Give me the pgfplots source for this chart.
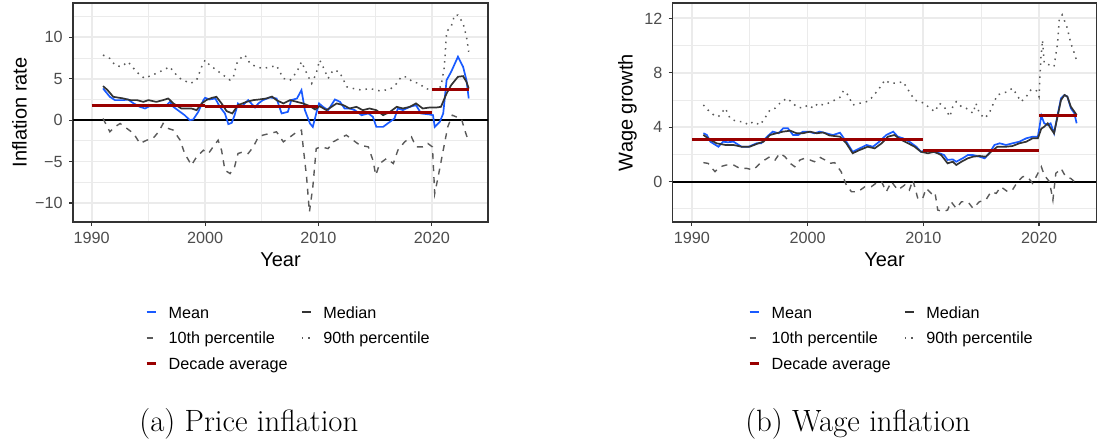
\documentclass[border=0pt]{standalone}
\usepackage{fontspec}
\usepackage{pgfplots}
\pgfplotsset{compat=1.18}
\newfontfamily\chartfont{Liberation Sans}
\definecolor{meanblue}{RGB}{25,90,255}
\definecolor{medgrey}{RGB}{51,51,51}
\definecolor{pgrey}{RGB}{90,90,90}
\definecolor{decred}{RGB}{153,0,0}
\definecolor{gridc}{RGB}{235,235,235}
\definecolor{borderc}{RGB}{51,51,51}
\definecolor{ticklab}{RGB}{77,77,77}
\pgfplotsset{
  panel/.style={
    scale only axis, anchor=south west,
    height=109.5pt,
    xmin=1988.35, xmax=2024.95,
    xtick={1990,2000,2010,2020}, xticklabels={1990,2000,2010,2020},
    minor xtick={1995,2005,2015},
    grid=both,
    major grid style={draw=gridc, line width=0.9pt},
    minor grid style={draw=gridc, line width=0.45pt},
    axis line style={draw=borderc, line width=0.7pt},
    tick align=outside, major tick length=2pt, minor tick length=0pt,
    tick style={draw=borderc, line width=0.55pt},
    xtick pos=bottom, ytick pos=left,
    tick label style={font=\chartfont\fontsize{8.1}{9.7}\selectfont, text=ticklab},
    yticklabel style={inner sep=0pt, xshift=-3pt},
    xticklabel style={inner sep=0pt, yshift=-3pt},
    label style={font=\chartfont\fontsize{10}{12}\selectfont, text=black},
    xlabel={Year},
    xlabel style={at={(axis description cs:0.5,0)}, anchor=base, yshift=-22.35pt},
    legend columns=2,
    legend image code/.code={\draw[##1] (0pt,2.85pt) -- (4.5pt,2.85pt);},
    legend style={
      draw=none, fill=none, inner sep=0pt, outer sep=0pt, anchor=north west,
      font=\chartfont\fontsize{8.1}{9.7}\selectfont,
      row sep=4.95pt,
      cells={anchor=base west},
      nodes={inner sep=0pt, outer sep=0pt, text height=6pt, text depth=1.8pt},
      /tikz/every odd column/.style={column sep=5.85pt},
      /tikz/every even column/.style={column sep=6.7pt},
    },
  },
  meanst/.style={meanblue, line width=0.85pt},
  medst/.style={medgrey, line width=0.85pt},
  p10st/.style={pgrey, line width=0.7pt, dash pattern=on 3pt off 3pt},
  p90st/.style={pgrey, line width=0.75pt, dash pattern=on 0.75pt off 2.5pt},
  decst/.style={decred, line width=1.5pt},
}
\begin{document}
\begin{tikzpicture}
\path[use as bounding box] (0,0) rectangle (548.5pt,-222pt);
% ---------------- Panel (a) ----------------
\begin{axis}[panel, at={(36.5pt,-111pt)}, width=207.5pt,
  ymin=-12.3, ymax=14.15,
  ytick={-10,-5,0,5,10}, yticklabels={−10,−5,0,5,10},
  minor ytick={-7.5,-2.5,2.5,7.5,12.5},
  ylabel={Inflation rate},
  ylabel style={at={(axis description cs:-0.129,0.5)}, anchor=center},
  legend style={at={(axis description cs:0.1735,-0.3836)}},
  unbounded coords=jump,
]
\addlegendimage{meanst}\addlegendentry{Mean}
\addlegendimage{medst}\addlegendentry{Median}
\addlegendimage{p10st}\addlegendentry{10th percentile}
\addlegendimage{p90st}\addlegendentry{90th percentile}
\addlegendimage{decst}\addlegendentry{Decade average}
\addplot[black, line width=0.8pt, forget plot] coordinates {(1988.35,0) (2024.95,0)};
% 90th percentile
\addplot[p90st, forget plot] coordinates {
(1991.0,7.86)(1991.6,7.46)(1992.05,6.65)(1992.6,6.45)(1993.2,7.05)(1993.7,6.25)(1994.25,5.44)(1994.7,5.04)(1995.1,5.32)(1995.7,5.65)(1996.3,6.05)(1996.9,6.45)(1997.2,5.84)(1997.8,5.04)(1998.4,4.63)(1998.7,4.43)(1999.25,4.84)(1999.7,6.45)(2000.0,7.26)(2000.4,6.65)(2001.0,6.05)(2001.6,5.44)(2002.2,4.84)(2002.5,5.24)(2002.8,6.86)(2003.35,7.86)(2003.65,7.66)(2003.95,6.86)(2004.5,6.45)(2005.1,6.25)(2005.7,6.4)(2006.3,6.6)(2006.9,5.04)(2007.5,4.84)(2008.1,5.84)(2008.5,7.05)(2008.9,5.84)(2009.4,4.43)(2009.8,5.64)(2010.1,7.26)(2010.4,6.45)(2010.85,5.04)(2011.3,6.05)(2011.85,5.84)(2012.5,4.03)(2013.05,3.83)(2013.8,3.63)(2014.5,3.83)(2015.4,3.54)(2016.3,3.71)(2016.9,4.43)(2017.3,5.24)(2017.75,5.24)(2018.3,4.63)(2018.9,4.43)(2019.4,3.83)(2019.8,3.71)(2020.4,3.83)(2020.8,4.03)(2021.1,6.45)(2021.3,10.7)(2021.7,11.3)(2022.0,12.7)(2022.3,12.7)(2022.75,11.7)(2023.05,10.1)(2023.25,8.26)};
% 10th percentile
\addplot[p10st, forget plot] coordinates {
(1991.0,0.2)(1991.6,-1.41)(1992.05,-0.81)(1992.5,-0.4)(1993.1,-1.0)(1993.7,-1.61)(1994.25,-2.82)(1994.85,-2.42)(1995.4,-2.21)(1995.9,-1.41)(1996.3,-0.4)(1996.75,-1.0)(1997.2,-1.21)(1997.8,-2.42)(1998.2,-4.03)(1998.8,-5.44)(1999.25,-4.43)(1999.85,-3.63)(2000.3,-4.03)(2000.7,-3.23)(2001.15,-2.42)(2001.45,-3.63)(2001.75,-6.05)(2002.2,-6.45)(2002.6,-5.64)(2002.9,-4.03)(2003.35,-3.83)(2003.8,-4.03)(2004.25,-3.23)(2004.7,-2.02)(2005.1,-1.81)(2005.7,-1.61)(2006.3,-1.41)(2006.9,-2.62)(2007.5,-2.02)(2008.1,-1.41)(2008.5,-1.21)(2008.65,-3.23)(2008.95,-6.86)(2009.2,-11.1)(2009.5,-8.06)(2009.8,-3.43)(2010.25,-3.23)(2010.85,-3.43)(2011.3,-2.62)(2011.85,-2.21)(2012.45,-1.81)(2013.05,-2.42)(2013.65,-3.02)(2014.4,-3.23)(2014.8,-4.84)(2015.05,-6.65)(2015.4,-5.24)(2016.0,-4.63)(2016.6,-5.24)(2017.0,-3.63)(2017.6,-2.62)(2018.2,-2.02)(2018.6,-3.23)(2019.2,-3.23)(2019.65,-2.82)(2020.05,-3.23)(2020.25,-8.87)(2020.55,-6.86)(2021.0,-3.63)(2021.4,-0.81)(2021.8,0.6)(2022.15,0.4)(2022.6,0.2)(2022.9,-1.21)(2023.25,-2.62)};
% mean
\addplot[meanst, forget plot] coordinates {
(1991.0,3.83)(1991.6,2.82)(1992.05,2.42)(1992.8,2.42)(1993.2,2.5)(1993.7,2.02)(1994.25,1.61)(1994.7,1.41)(1995.1,1.69)(1996.0,1.69)(1996.6,1.81)(1996.9,2.21)(1997.2,1.61)(1997.8,1.0)(1998.2,0.6)(1998.65,0.0)(1998.95,0.08)(1999.4,1.0)(1999.85,2.42)(2000.0,2.7)(2000.4,2.5)(2000.9,2.62)(2001.3,1.61)(2001.75,0.81)(2002.05,-0.48)(2002.35,-0.32)(2002.6,0.6)(2002.9,2.02)(2003.2,1.61)(2003.8,2.42)(2004.4,1.53)(2004.7,2.02)(2005.1,2.42)(2005.7,2.74)(2006.3,2.62)(2006.75,0.81)(2007.3,1.0)(2007.6,2.42)(2008.1,2.62)(2008.5,3.63)(2008.8,1.21)(2009.25,-0.4)(2009.5,-0.81)(2009.8,0.81)(2010.05,2.02)(2010.4,1.61)(2010.85,1.21)(2011.45,2.5)(2011.9,2.21)(2012.3,1.41)(2012.75,1.41)(2013.2,1.21)(2013.8,0.6)(2014.4,0.81)(2014.8,0.4)(2015.1,-0.81)(2015.7,-0.81)(2016.3,-0.2)(2016.7,0.2)(2017.0,1.41)(2017.45,1.21)(2018.05,1.61)(2018.6,1.81)(2019.05,0.81)(2019.8,0.69)(2020.1,0.6)(2020.25,-0.81)(2020.7,-0.2)(2021.0,0.81)(2021.3,4.84)(2021.7,5.84)(2022.3,7.66)(2022.75,6.45)(2023.05,4.84)(2023.25,2.62)};
% median
\addplot[medst, forget plot] coordinates {
(1991.0,4.11)(1991.4,3.63)(1991.9,2.82)(1992.8,2.62)(1993.4,2.42)(1994.0,2.42)(1994.55,2.21)(1995.0,2.42)(1995.7,2.21)(1996.3,2.42)(1996.75,2.62)(1997.2,2.02)(1997.9,1.41)(1998.8,1.41)(1999.25,1.21)(1999.7,2.02)(2000.1,2.42)(2000.6,2.7)(2001.0,2.82)(2001.45,2.02)(2001.9,1.09)(2002.4,0.81)(2002.9,1.81)(2003.65,2.21)(2004.25,2.42)(2004.8,2.5)(2005.4,2.62)(2005.9,2.85)(2006.3,2.42)(2006.9,2.02)(2007.5,2.42)(2008.1,2.21)(2008.65,2.02)(2009.25,1.69)(2009.7,1.29)(2010.1,1.69)(2010.7,1.21)(2011.15,1.61)(2011.6,2.02)(2012.2,1.81)(2012.75,1.41)(2013.35,1.61)(2013.9,1.21)(2014.5,1.41)(2015.1,1.21)(2015.7,0.6)(2016.3,1.0)(2016.9,1.61)(2017.45,1.41)(2018.05,1.61)(2018.6,2.02)(2019.2,1.41)(2019.8,1.53)(2020.4,1.53)(2020.8,1.61)(2021.3,3.23)(2021.7,4.23)(2022.3,5.24)(2022.75,5.32)(2023.05,4.63)(2023.25,3.83)};
% decade averages
\addplot[decst, forget plot] coordinates {
(1990,1.74)(2000,1.74)(2000,nan)(2000,1.66)(2010,1.66)(2010,nan)(2010,0.93)(2020,0.93)(2020,nan)(2020,3.73)(2023.25,3.73)};
\end{axis}
% ---------------- Panel (b) ----------------
\begin{axis}[panel, at={(336.35pt,-111pt)}, width=211.8pt,
  ymin=-2.96, ymax=13.13,
  ytick={0,4,8,12}, yticklabels={0,4,8,12},
  minor ytick={-2,2,6,10},
  ylabel={Wage growth},
  ylabel style={at={(axis description cs:-0.1067,0.5)}, anchor=center},
  legend style={at={(axis description cs:0.1778,-0.3836)}},
  unbounded coords=jump,
]
\addlegendimage{meanst}\addlegendentry{Mean}
\addlegendimage{medst}\addlegendentry{Median}
\addlegendimage{p10st}\addlegendentry{10th percentile}
\addlegendimage{p90st}\addlegendentry{90th percentile}
\addlegendimage{decst}\addlegendentry{Decade average}
\addplot[black, line width=0.8pt, forget plot] coordinates {(1988.35,0) (2024.95,0)};
% 90th percentile
\addplot[p90st, forget plot] coordinates {
(1991.0,5.64)(1991.4,5.27)(1991.9,4.9)(1992.3,4.78)(1992.9,5.4)(1993.3,4.66)(1993.9,4.41)(1994.45,4.41)(1994.9,4.17)(1995.3,4.41)(1995.9,4.17)(1996.3,4.66)(1996.75,5.27)(1997.2,5.4)(1997.6,5.76)(1998.2,6.13)(1998.6,5.88)(1999.05,5.51)(1999.6,5.4)(2000.05,5.64)(2000.5,5.4)(2000.9,5.76)(2001.35,5.64)(2001.9,5.8)(2002.35,6.0)(2002.8,6.2)(2003.1,6.69)(2003.5,6.37)(2003.9,5.64)(2004.5,5.76)(2005.1,5.88)(2005.5,6.13)(2006.1,6.74)(2006.7,7.48)(2007.1,7.24)(2007.7,7.24)(2008.25,7.35)(2008.7,6.74)(2009.25,6.0)(2009.7,5.88)(2010.1,5.76)(2010.55,5.4)(2011.0,5.15)(2011.4,5.76)(2011.8,5.51)(2012.3,4.78)(2012.55,5.51)(2012.85,5.88)(2013.3,5.51)(2013.7,5.4)(2014.3,5.03)(2014.55,5.76)(2014.85,5.03)(2015.3,4.66)(2015.7,5.03)(2016.0,5.64)(2016.4,6.37)(2016.85,6.5)(2017.3,6.62)(2017.7,6.87)(2018.0,6.5)(2018.45,5.88)(2018.9,6.25)(2019.3,6.74)(2019.75,6.74)(2020.0,6.25)(2020.15,8.95)(2020.3,10.4)(2020.45,8.7)(2020.9,8.58)(2021.3,8.46)(2021.6,10.17)(2021.75,11.9)(2022.0,12.26)(2022.4,11.4)(2022.75,10.17)(2023.05,9.44)(2023.25,8.9)};
% 10th percentile
\addplot[p10st, forget plot] coordinates {
(1991.0,1.4)(1991.4,1.35)(1992.0,0.74)(1992.45,1.1)(1993.0,1.23)(1993.6,1.23)(1994.15,0.98)(1994.75,0.98)(1995.3,0.86)(1995.9,1.35)(1996.3,1.6)(1996.75,1.84)(1997.2,1.6)(1997.6,2.09)(1998.05,1.84)(1998.5,1.35)(1998.9,1.1)(1999.35,1.6)(1999.75,1.72)(2000.2,1.6)(2000.6,1.47)(2001.05,1.8)(2001.5,1.6)(2001.9,1.35)(2002.35,1.4)(2002.9,0.74)(2003.35,-0.24)(2003.8,-0.74)(2004.35,-0.74)(2004.95,-0.37)(2005.5,-0.37)(2006.1,0.0)(2006.4,0.0)(2006.8,-0.74)(2007.25,0.0)(2007.8,-0.61)(2008.4,-0.24)(2008.8,-0.61)(2009.1,0.12)(2009.55,-1.3)(2009.95,-1.22)(2010.25,-0.49)(2010.7,-0.86)(2011.0,-0.74)(2011.25,-2.08)(2011.7,-2.2)(2012.1,-2.08)(2012.4,-1.47)(2012.85,-1.96)(2013.3,-1.47)(2013.85,-1.47)(2014.3,-1.96)(2014.85,-1.47)(2015.4,-1.35)(2015.85,-0.74)(2016.3,-0.86)(2016.7,-0.37)(2017.3,-0.74)(2017.7,-0.61)(2018.15,0.0)(2018.6,0.37)(2019.0,0.37)(2019.45,-0.12)(2019.9,0.61)(2020.2,1.1)(2020.45,0.49)(2020.9,0.0)(2021.2,-1.35)(2021.45,0.61)(2021.9,0.98)(2022.3,0.37)(2022.75,0.24)(2023.15,-0.07)};
% mean
\addplot[meanst, forget plot] coordinates {
(1991.0,3.56)(1991.3,3.44)(1991.6,2.94)(1992.3,2.57)(1992.7,2.94)(1993.1,2.9)(1993.6,2.94)(1994.3,2.57)(1994.9,2.57)(1995.6,2.82)(1996.0,2.82)(1996.5,3.31)(1997.0,3.68)(1997.5,3.56)(1997.9,3.93)(1998.3,3.93)(1998.75,3.43)(1999.2,3.43)(1999.6,3.68)(2000.05,3.68)(2000.6,3.56)(2001.05,3.68)(2001.6,3.56)(2002.2,3.43)(2002.8,3.6)(2003.35,2.94)(2003.9,2.2)(2004.5,2.45)(2005.1,2.7)(2005.65,2.57)(2006.2,2.94)(2006.8,3.43)(2007.4,3.68)(2007.8,3.31)(2008.25,3.19)(2008.8,2.94)(2009.4,2.57)(2009.8,2.2)(2010.25,2.33)(2010.8,2.2)(2011.4,2.09)(2011.8,1.96)(2012.1,1.6)(2012.55,1.64)(2012.85,1.47)(2013.4,1.72)(2013.85,1.96)(2014.3,1.96)(2014.85,1.84)(2015.3,1.72)(2015.7,2.09)(2016.15,2.7)(2016.6,2.82)(2017.15,2.7)(2017.7,2.82)(2018.3,2.94)(2018.9,3.19)(2019.45,3.31)(2019.9,3.31)(2020.2,4.85)(2020.45,4.29)(2020.75,4.17)(2021.0,4.29)(2021.3,3.56)(2021.6,4.9)(2021.9,6.13)(2022.2,6.37)(2022.45,6.25)(2022.75,5.4)(2023.05,5.03)(2023.25,4.29)};
% median
\addplot[medst, forget plot] coordinates {
(1991.0,3.44)(1991.6,3.07)(1992.15,2.82)(1992.9,2.7)(1993.6,2.7)(1994.3,2.57)(1995.0,2.57)(1995.75,2.82)(1996.2,2.94)(1996.75,3.43)(1997.3,3.56)(1997.9,3.68)(1998.5,3.75)(1999.05,3.56)(1999.6,3.56)(2000.2,3.68)(2000.8,3.56)(2001.35,3.62)(2001.9,3.4)(2002.8,3.31)(2003.35,2.82)(2003.9,2.09)(2004.5,2.33)(2005.2,2.57)(2005.8,2.45)(2006.4,2.82)(2006.95,3.31)(2007.5,3.43)(2008.1,3.07)(2008.7,2.82)(2009.25,2.57)(2009.8,2.2)(2010.4,2.09)(2010.95,2.2)(2011.55,1.96)(2012.1,1.35)(2012.55,1.47)(2012.85,1.23)(2013.3,1.47)(2013.85,1.72)(2014.3,1.84)(2014.85,1.89)(2015.4,1.84)(2015.85,2.2)(2016.4,2.57)(2017.15,2.57)(2017.7,2.62)(2018.3,2.82)(2018.9,2.94)(2019.45,3.19)(2019.9,3.19)(2020.2,3.9)(2020.45,4.04)(2020.75,4.29)(2021.0,3.93)(2021.3,3.56)(2021.6,4.78)(2021.9,6.0)(2022.2,6.37)(2022.45,6.25)(2022.75,5.51)(2023.05,5.15)(2023.25,4.9)};
% decade averages
\addplot[decst, forget plot] coordinates {
(1990,3.12)(2000,3.12)(2000,nan)(2000,3.07)(2010,3.07)(2010,nan)(2010,2.28)(2020,2.28)(2020,nan)(2020,4.9)(2023.25,4.9)};
\end{axis}
% captions
\node[anchor=base, font=\fontsize{15.4}{18}\selectfont, inner sep=0pt] at (124.45pt,-215.75pt) {(a) Price inflation};
\node[anchor=base, font=\fontsize{15.4}{18}\selectfont, inner sep=0pt] at (429pt,-215.75pt) {(b) Wage inflation};
\end{tikzpicture}
\end{document}
